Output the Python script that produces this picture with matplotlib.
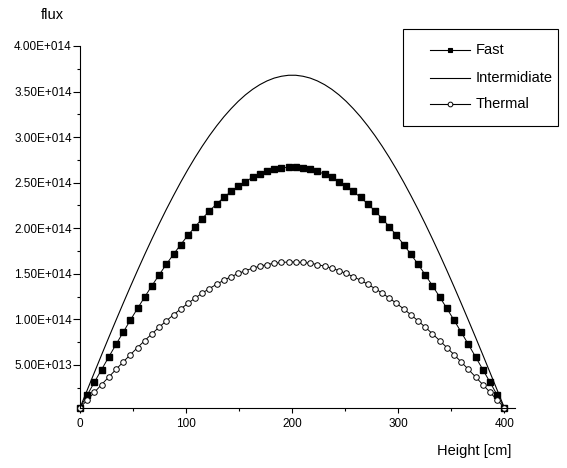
import numpy as np
import matplotlib
matplotlib.use("Agg")
import matplotlib.pyplot as plt
from matplotlib.ticker import MultipleLocator, FuncFormatter
from matplotlib.patches import Rectangle
from matplotlib.lines import Line2D

plt.rcParams['font.family'] = ['Liberation Sans', 'DejaVu Sans']

# height along the core [cm]
height = [0.00, 6.78, 13.56, 20.34, 27.12, 33.90, 40.68, 47.46, 54.24, 61.02,
          67.80, 74.58, 81.36, 88.14, 94.92, 101.69, 108.47, 115.25, 122.03, 128.81,
          135.59, 142.37, 149.15, 155.93, 162.71, 169.49, 176.27, 183.05, 189.83, 196.61,
          203.39, 210.17, 216.95, 223.73, 230.51, 237.29, 244.07, 250.85, 257.63, 264.41,
          271.19, 277.97, 284.75, 291.53, 298.31, 305.08, 311.86, 318.64, 325.42, 332.20,
          338.98, 345.76, 352.54, 359.32, 366.10, 372.88, 379.66, 386.44, 393.22, 400.00]

# flux values in units of 1e14
fast = [0.030, 0.170, 0.311, 0.450, 0.588, 0.725, 0.859, 0.992, 1.121, 1.247,
        1.370, 1.489, 1.605, 1.715, 1.821, 1.922, 2.017, 2.107, 2.190, 2.268,
        2.339, 2.404, 2.462, 2.513, 2.558, 2.594, 2.624, 2.647, 2.662, 2.669,
        2.669, 2.662, 2.647, 2.624, 2.594, 2.558, 2.513, 2.462, 2.404, 2.339,
        2.268, 2.190, 2.107, 2.017, 1.922, 1.821, 1.715, 1.605, 1.489, 1.370,
        1.247, 1.121, 0.992, 0.859, 0.725, 0.588, 0.450, 0.311, 0.170, 0.030]

intermediate = [0.030, 0.224, 0.418, 0.611, 0.802, 0.990, 1.176, 1.359, 1.538, 1.713,
                1.883, 2.048, 2.207, 2.359, 2.506, 2.645, 2.777, 2.901, 3.017, 3.124,
                3.223, 3.312, 3.393, 3.464, 3.525, 3.576, 3.617, 3.648, 3.668, 3.679,
                3.679, 3.668, 3.648, 3.617, 3.576, 3.525, 3.464, 3.393, 3.312, 3.223,
                3.124, 3.017, 2.901, 2.777, 2.645, 2.506, 2.359, 2.207, 2.048, 1.883,
                1.713, 1.538, 1.359, 1.176, 0.990, 0.802, 0.611, 0.418, 0.224, 0.030]

thermal = [0.030, 0.115, 0.200, 0.285, 0.368, 0.451, 0.533, 0.613, 0.691, 0.768,
           0.842, 0.915, 0.984, 1.051, 1.115, 1.176, 1.234, 1.289, 1.339, 1.386,
           1.430, 1.469, 1.504, 1.535, 1.562, 1.584, 1.602, 1.616, 1.625, 1.630,
           1.630, 1.625, 1.616, 1.602, 1.584, 1.562, 1.535, 1.504, 1.469, 1.430,
           1.386, 1.339, 1.289, 1.234, 1.176, 1.115, 1.051, 0.984, 0.915, 0.842,
           0.768, 0.691, 0.613, 0.533, 0.451, 0.368, 0.285, 0.200, 0.115, 0.030]

labels = ["Fast", "Intermidiate", "Thermal"]

W, H = 567, 468
fig = plt.figure(figsize=(W / 100, H / 100), dpi=100)
ax = fig.add_axes([80 / W, 1 - 408 / H, 435 / W, (408 - 46) / H])

x = np.array(height)
ax.plot(x, np.array(intermediate) * 1e14, color='black', lw=0.8, clip_on=False)
ax.plot(x, np.array(fast) * 1e14, color='black', lw=0.7, marker='s', ms=4.6,
        mec='black', mfc='black', clip_on=False)
ax.plot(x, np.array(thermal) * 1e14, color='black', lw=0.7, marker='o', ms=4.0,
        mec='black', mfc='white', mew=0.7, clip_on=False)

ax.set_xlim(0, 410)
ax.set_ylim(2.8e12, 4.0e14)

for s in ['top', 'right']:
    ax.spines[s].set_visible(False)
for s in ['left', 'bottom']:
    ax.spines[s].set_linewidth(0.8)

def sci(v, pos):
    m, e = f"{v:.2E}".split("E")
    return f"{m}E{int(e):+04d}"

ax.yaxis.set_major_locator(MultipleLocator(5e13))
ax.yaxis.set_minor_locator(MultipleLocator(2.5e13))
ax.yaxis.set_major_formatter(FuncFormatter(sci))
ax.xaxis.set_major_locator(MultipleLocator(100))
ax.xaxis.set_minor_locator(MultipleLocator(50))

ax.tick_params(axis='y', which='major', direction='out', length=5, width=0.8, pad=1, labelsize=8.5)
ax.tick_params(axis='y', which='minor', direction='out', length=2.5, width=0.8)
ax.tick_params(axis='x', which='major', direction='out', length=3.6, width=0.8, pad=3.5, labelsize=8.5)
ax.tick_params(axis='x', which='minor', direction='out', length=2.2, width=0.8)

fig.text(52 / W, 1 - 15 / H, "flux", ha='center', va='center', fontsize=10.5)
fig.text(511 / W, 1 - 451 / H, "Height [cm]", ha='right', va='center', fontsize=10.5)

# legend box
def fx(px):
    return px / W

def fy(py):
    return 1 - py / H

fig.add_artist(Rectangle((fx(403), fy(126)), 155 / W, (126 - 29) / H,
                         transform=fig.transFigure, fill=True, facecolor='white',
                         edgecolor='black', lw=0.8))
rows = [50, 78, 104]
styles = [dict(marker='s', ms=3.2, mfc='black'),
          dict(marker=None),
          dict(marker='o', ms=3.4, mfc='white', mew=0.7)]
for lab, yy, st in zip(labels, rows, styles):
    fig.add_artist(Line2D([fx(430), fx(470)], [fy(yy), fy(yy)], transform=fig.transFigure,
                          color='black', lw=0.8))
    if st['marker']:
        fig.add_artist(Line2D([fx(450)], [fy(yy)], transform=fig.transFigure,
                              color='black', ls='none', marker=st['marker'], ms=st['ms'],
                              mfc=st['mfc'], mec='black', mew=st.get('mew', 0.8)))
    fig.text(fx(476), fy(yy), lab, ha='left', va='center', fontsize=10.5)

fig.savefig("out.png", dpi=100)
